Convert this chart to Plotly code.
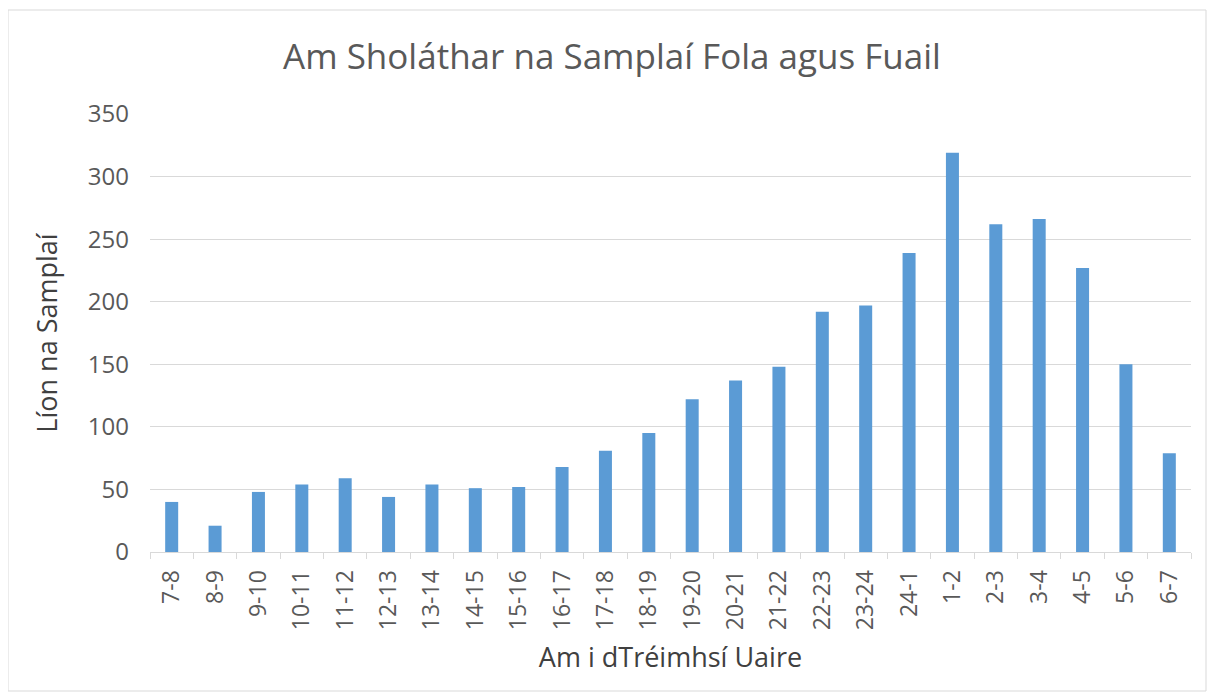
import plotly.graph_objects as go

categories = ["7-8", "8-9", "9-10", "10-11", "11-12", "12-13", "13-14", "14-15", "15-16",
              "16-17", "17-18", "18-19", "19-20", "20-21", "21-22", "22-23", "23-24", "24-1",
              "1-2", "2-3", "3-4", "4-5", "5-6", "6-7"]
values = [40, 21, 48, 54, 59, 44, 54, 51, 52, 68, 81, 95, 122, 137, 148, 192, 197, 239,
          319, 262, 266, 227, 150, 79]
y_ticks = [0, 50, 100, 150, 200, 250, 300, 350]

# page has an 8px body margin; figure coords = page coords - 8
OFF = 8
W, H = 1215 - 2 * OFF, 700 - 2 * OFF
L = 150 - OFF
T = 114 - OFF
R = W - (1191 - OFF)
B = H - (552 - OFF)
pw, ph = W - L - R, H - T - B

fig = go.Figure()
fig.add_trace(go.Bar(x=categories, y=values, marker_color="#5b9bd5",
                     marker_line_width=0))

font_family = "Open Sans, Noto Sans, sans-serif"
fig.update_layout(
    width=W, height=H,
    margin=dict(l=L, r=R, t=T, b=B),
    paper_bgcolor="white", plot_bgcolor="white",
    bargap=0.7,
    showlegend=False,
    font=dict(family=font_family, color="#595959"),
    title=dict(text="Am Sholáthar na Samplaí Fola agus Fuail",
               x=(612 - OFF) / W, xanchor="center", y=1 - (57 - OFF) / H, yanchor="middle",
               font=dict(size=35, color="#595959", family=font_family)),
    xaxis=dict(type="category", tickangle=-90, tickfont=dict(size=23, color="#595959"),
               showline=True, linecolor="#d9d9d9", linewidth=1,
               ticks="outside", tickson="boundaries", ticklen=6, tickcolor="#d9d9d9",
               ticklabelstandoff=8,
               showgrid=False,
               title=dict(text="Am i dTréimhsí Uaire", font=dict(size=27, color="#404040"),
                          standoff=18)),
    yaxis=dict(range=[0, 350], tickvals=y_ticks, tickfont=dict(size=24, color="#595959"),
               showgrid=True, gridcolor="#d9d9d9", gridwidth=1, zeroline=False,
               ticks="", ticklabelstandoff=20,
               title=dict(text="Líon na Samplaí", font=dict(size=27, color="#404040"),
                          standoff=22)),
)
fig.add_shape(type="rect", xref="paper", yref="paper",
              x0=(8 - OFF - L) / pw, x1=(1206 - OFF - L) / pw,
              y0=1 - (691 - OFF - T) / ph, y1=1 - (10 - OFF - T) / ph,
              line=dict(color="#d9d9d9", width=1), fillcolor="rgba(0,0,0,0)", layer="below")
fig.write_html("out.html")
